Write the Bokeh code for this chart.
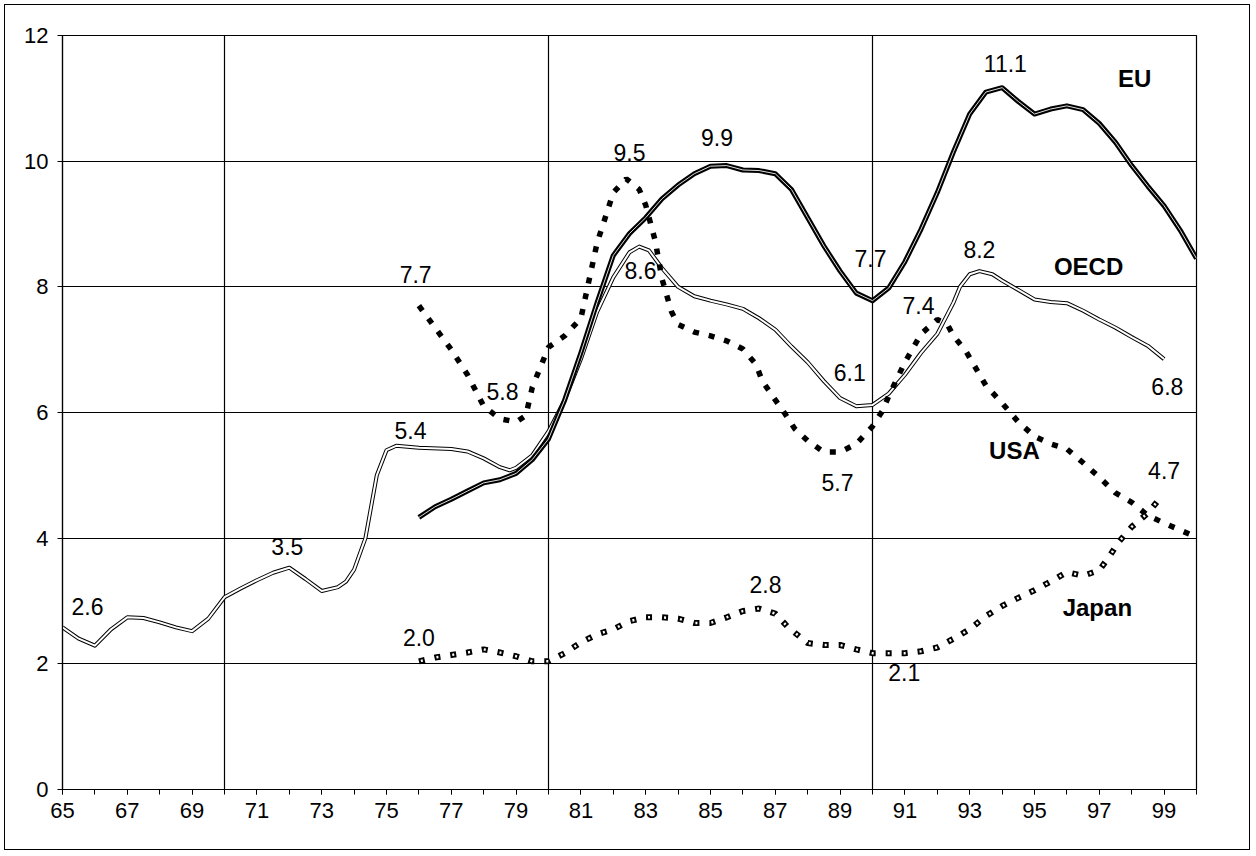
from bokeh.plotting import figure
from bokeh.models import ColumnDataSource, LabelSet, FixedTicker, Range1d
from bokeh.core.properties import value
from bokeh.embed import file_html
from bokeh.resources import INLINE

# ---- data ----
oecd_year = [65, 65.5, 66, 66.5, 67, 67.5, 68, 68.5, 69, 69.5, 70, 70.5, 71, 71.5, 72, 72.5, 73, 73.5, 73.75,
             74, 74.35, 74.7, 75, 75.3, 76, 77, 77.5, 78, 78.5, 78.8, 79, 79.5, 80, 80.5, 81, 81.5, 82, 82.5,
             82.8, 83.1, 83.5, 84, 84.5, 85, 85.5, 86, 86.5, 87, 87.5, 88, 88.5, 89, 89.5, 90, 90.5, 91, 91.5,
             92, 92.5, 92.7, 93, 93.3, 93.7, 94, 94.5, 95, 95.5, 96, 96.5, 97, 97.5, 98, 98.5, 99]
oecd_val = [2.58, 2.4, 2.29, 2.55, 2.74, 2.73, 2.66, 2.58, 2.52, 2.72, 3.06, 3.2, 3.33, 3.45, 3.53, 3.35, 3.16,
            3.22, 3.31, 3.5, 4.0, 5.0, 5.4, 5.47, 5.44, 5.42, 5.38, 5.27, 5.13, 5.08, 5.12, 5.32, 5.7, 6.2, 6.85,
            7.6, 8.15, 8.55, 8.64, 8.58, 8.3, 8.0, 7.85, 7.78, 7.72, 7.65, 7.5, 7.32, 7.05, 6.8, 6.5, 6.23, 6.1,
            6.12, 6.3, 6.6, 6.95, 7.25, 7.75, 8.0, 8.2, 8.25, 8.2, 8.1, 7.95, 7.8, 7.76, 7.74, 7.62, 7.48, 7.35,
            7.2, 7.06, 6.85]

eu_year = [76, 76.5, 77, 77.5, 78, 78.5, 79, 79.5, 80, 80.5, 81, 81.5, 82, 82.5, 83, 83.5, 84, 84.5, 85, 85.5,
           86, 86.5, 87, 87.5, 88, 88.5, 89, 89.5, 90, 90.5, 91, 91.5, 92, 92.5, 93, 93.5, 94, 94.5, 95, 95.5,
           96, 96.5, 97, 97.5, 98, 98.5, 99, 99.5, 100]
eu_val = [4.33, 4.5, 4.62, 4.75, 4.88, 4.93, 5.03, 5.25, 5.58, 6.2, 6.95, 7.75, 8.5, 8.85, 9.1, 9.4, 9.62, 9.8,
          9.92, 9.93, 9.86, 9.85, 9.8, 9.55, 9.1, 8.65, 8.25, 7.9, 7.78, 7.98, 8.4, 8.92, 9.5, 10.15, 10.75, 11.1,
          11.17, 10.95, 10.75, 10.83, 10.88, 10.82, 10.6, 10.3, 9.93, 9.6, 9.29, 8.9, 8.45]

usa_year = [76, 76.5, 77, 77.5, 78, 78.5, 79, 79.3, 79.5, 80, 80.5, 81, 81.5, 82, 82.4, 82.8, 83, 83.3, 83.5,
            83.8, 84, 84.5, 85, 85.5, 86, 86.4, 86.6, 87, 87.3, 87.6, 88, 88.5, 89, 89.5, 90, 90.3, 90.5, 91,
            91.5, 92, 92.3, 92.5, 92.9, 93.5, 94, 94.5, 95, 95.5, 96, 96.5, 97, 97.5, 98, 98.5, 99, 99.8]
usa_val = [7.7, 7.35, 7.0, 6.6, 6.1, 5.9, 5.85, 5.95, 6.4, 7.04, 7.22, 7.5, 8.7, 9.5, 9.72, 9.55, 9.3, 8.72,
           8.13, 7.6, 7.4, 7.28, 7.22, 7.14, 7.01, 6.77, 6.5, 6.2, 5.98, 5.74, 5.55, 5.37, 5.37, 5.5, 5.78, 6.02,
           6.26, 6.8, 7.25, 7.48, 7.41, 7.22, 6.96, 6.43, 6.15, 5.85, 5.62, 5.5, 5.42, 5.2, 4.97, 4.72, 4.57,
           4.36, 4.24, 4.06]

japan_year = [76, 76.5, 77, 77.5, 78, 78.5, 79, 79.5, 80, 80.5, 81, 81.5, 82, 82.5, 83, 83.5, 84, 84.5, 85,
              85.5, 86, 86.5, 87, 87.4, 88, 88.5, 89, 89.5, 90, 90.5, 91, 91.5, 92, 92.5, 93, 93.5, 94, 94.5,
              95, 95.5, 96, 96.5, 97, 97.3, 97.6, 98, 98.5, 98.8]
japan_val = [2.04, 2.1, 2.14, 2.18, 2.23, 2.18, 2.12, 2.04, 2.04, 2.17, 2.34, 2.47, 2.55, 2.68, 2.74, 2.74,
             2.72, 2.65, 2.65, 2.74, 2.84, 2.88, 2.8, 2.58, 2.33, 2.3, 2.3, 2.23, 2.17, 2.17, 2.17, 2.2, 2.26,
             2.4, 2.55, 2.76, 2.92, 3.05, 3.17, 3.31, 3.46, 3.4, 3.49, 3.7, 3.94, 4.18, 4.4, 4.59]

x_tick_labels = [str(y) for y in range(65, 100, 2)]
y_ticks = [0, 2, 4, 6, 8, 10, 12]

# value annotations
val_text = ["2.6", "3.5", "5.4", "5.8", "9.9", "8.6", "7.7", "11.1", "8.2", "8.4", "7.4", "6.1",
            "6.8", "5.7", "4.7", "4.0", "2.0", "2.8", "2.1"]
val_x = [65.77, 71.94, 75.74, 78.58, 85.2, 82.84, 89.94, 94.1, 93.3, 100.74, 91.42, 89.3,
         99.1, 88.92, 99.0, 100.68, 76.0, 86.7, 90.98]
val_y = [2.92, 3.86, 5.71, 6.34, 10.37, 8.26, 8.45, 11.55, 8.6, 8.46, 7.7, 6.64,
         6.42, 4.89, 5.07, 4.05, 2.42, 3.27, 1.86]
valbg_text = ["7.7", "9.5"]
valbg_x = [75.9, 82.5]
valbg_y = [8.2, 10.14]
name_text = ["EU", "OECD", "USA", "Japan"]
name_x = [98.09, 96.67, 94.38, 96.94]
name_y = [11.31, 8.33, 5.39, 2.9]

FONT = "Liberation Sans"

p = figure(width=1246, height=846, output_backend="svg", toolbar_location=None,
           x_range=Range1d(65, 100), y_range=Range1d(0, 12),
           min_border_left=57, min_border_top=30, min_border_right=55, min_border_bottom=62)
p.styles = {"border": "1.5px solid black", "margin-left": "4px", "margin-top": "4px"}
p.background_fill_color = "white"
p.border_fill_color = "white"
p.outline_line_color = "black"
p.outline_line_width = 1.2

# axes
p.xaxis.ticker = FixedTicker(ticks=list(range(65, 100, 2)), minor_ticks=list(range(65, 101)))
p.yaxis.ticker = FixedTicker(ticks=y_ticks)
for ax in (p.xaxis[0], p.yaxis[0]):
    ax.axis_line_color = "black"
    ax.axis_line_width = 1.2
    ax.major_tick_line_color = "black"
    ax.minor_tick_line_color = "black"
    ax.major_tick_in = 0
    ax.major_tick_out = 5
    ax.minor_tick_in = 0
    ax.minor_tick_out = 5
    ax.major_label_text_font = FONT
    ax.major_label_text_font_size = "22px"
    ax.major_label_text_color = "black"
p.xaxis.major_label_overrides = {int(s): s for s in x_tick_labels}
p.xaxis.major_label_standoff = 8
p.yaxis.major_label_standoff = 9
p.yaxis.minor_tick_line_color = None

# grid
p.ygrid.grid_line_color = "black"
p.ygrid.grid_line_width = 1.2
p.xgrid.ticker = FixedTicker(ticks=[70, 80, 90])
p.xgrid.grid_line_color = "black"
p.xgrid.grid_line_width = 1.2

# OECD: thin double line
p.line(oecd_year, oecd_val, line_color="black", line_width=4, line_join="round")
p.line(oecd_year, oecd_val, line_color="white", line_width=2, line_join="round")
# EU: heavy double line
p.line(eu_year, eu_val, line_color="black", line_width=5, line_join="round")
p.line(eu_year, eu_val, line_color="#dddddd", line_width=1, line_join="round")
# USA: heavy square dots
p.line(usa_year, usa_val, line_color="black", line_width=5.5, line_dash="6 10", line_cap="butt")
# Japan: hollow squares
p.line(japan_year, japan_val, line_color="black", line_width=6, line_dash="6 10", line_cap="butt")
p.line(japan_year, japan_val, line_color="white", line_width=2.5, line_dash="2 14", line_dash_offset=-2,
       line_cap="butt")

vals = ColumnDataSource(dict(x=val_x, y=val_y, t=val_text))
p.add_layout(LabelSet(x="x", y="y", text="t", source=vals, text_align="center", text_baseline="middle",
                      text_font=value(FONT), text_font_size=value("23px"), text_color="black"))
valsbg = ColumnDataSource(dict(x=valbg_x, y=valbg_y, t=valbg_text))
p.add_layout(LabelSet(x="x", y="y", text="t", source=valsbg, text_align="center", text_baseline="middle",
                      text_font=value(FONT), text_font_size=value("23px"), text_color="black",
                      background_fill_color="white"))
names = ColumnDataSource(dict(x=name_x, y=name_y, t=name_text))
p.add_layout(LabelSet(x="x", y="y", text="t", source=names, text_align="center", text_baseline="middle",
                      text_font=value(FONT), text_font_size=value("24px"), text_font_style="bold",
                      text_color="black"))

open("out.html", "w").write(file_html(p, INLINE))
